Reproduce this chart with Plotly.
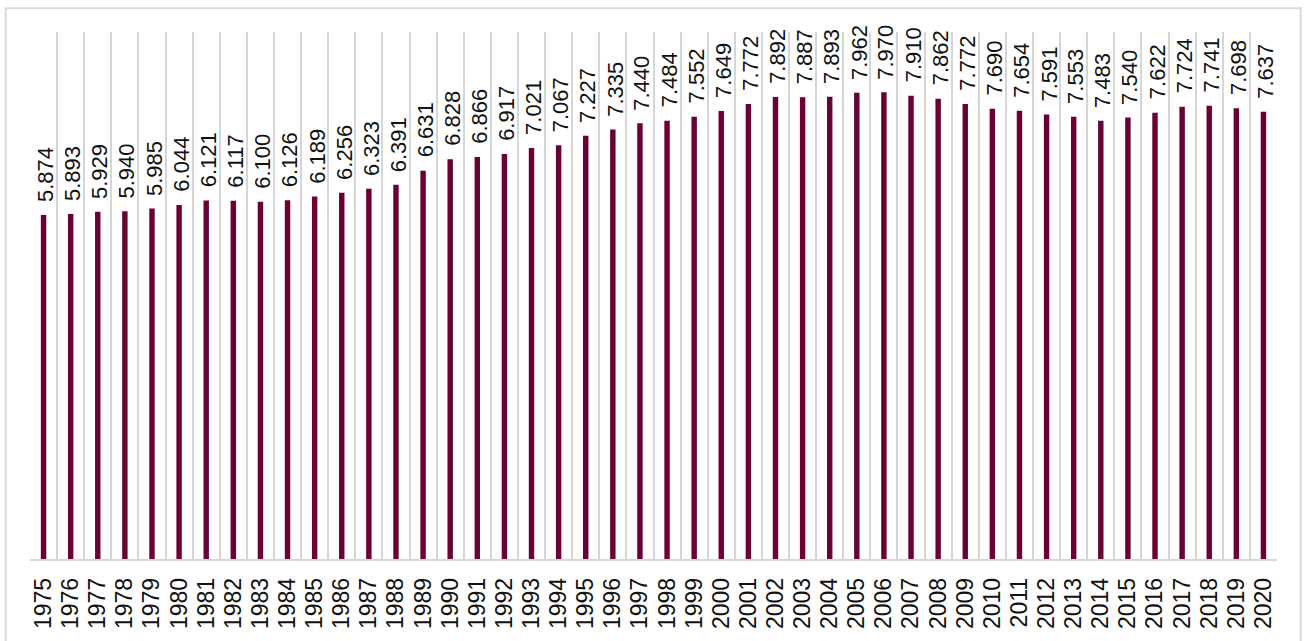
import plotly.graph_objects as go

years = [str(y) for y in range(1975, 2021)]
values = [5.874, 5.893, 5.929, 5.940, 5.985, 6.044, 6.121, 6.117, 6.100, 6.126,
          6.189, 6.256, 6.323, 6.391, 6.631, 6.828, 6.866, 6.917, 7.021, 7.067,
          7.227, 7.335, 7.440, 7.484, 7.552, 7.649, 7.772, 7.892, 7.887, 7.893,
          7.962, 7.970, 7.910, 7.862, 7.772, 7.690, 7.654, 7.591, 7.553, 7.483,
          7.540, 7.622, 7.724, 7.741, 7.698, 7.637]

FONT = "Liberation Sans, Arial, sans-serif"

fig = go.Figure(go.Bar(
    x=years, y=values, width=0.2,
    marker=dict(color="#6a0034", line=dict(width=0)),
    hovertemplate="%{x}: %{y:.3f}<extra></extra>",
))

# value labels placed at each category (by category index) above its bar
annotations = [
    dict(x=i, y=v, xref="x", yref="y", text=f"{v:.3f}", showarrow=False,
         textangle=-90, xanchor="center", yanchor="bottom", yshift=12, xshift=2,
         borderpad=0, font=dict(family=FONT, size=22, color="#111111"))
    for i, v in enumerate(values)
]

fig.update_layout(
    width=1306, height=641,
    margin=dict(l=30, r=29, t=32, b=82),
    paper_bgcolor="white", plot_bgcolor="white",
    showlegend=False,
    bargap=0.8,
    annotations=annotations,
    xaxis=dict(type="category", categoryorder="array", categoryarray=years,
               range=[-0.5, len(years) - 0.5], autorange=False,
               tickmode="array", tickvals=years, ticktext=years,
               tickson="boundaries", showgrid=True,
               gridcolor="#d6d6d6", gridwidth=1.5, ticks="",
               showline=True, linecolor="#d6d6d6", linewidth=1.5,
               tickangle=-90, tickfont=dict(family=FONT, size=23, color="#111111"),
               ticklabelstandoff=8),
    yaxis=dict(range=[0, 9], autorange=False, showgrid=False, showticklabels=False,
               zeroline=False, showline=False, ticks=""),
    shapes=[dict(type="rect", xref="paper", yref="paper",
                 x0=-0.0195, x1=1.019, y0=-0.2, y1=1.045,
                 line=dict(color="#d9d9d9", width=2), layer="below")],
)

fig.write_html("out.html")
